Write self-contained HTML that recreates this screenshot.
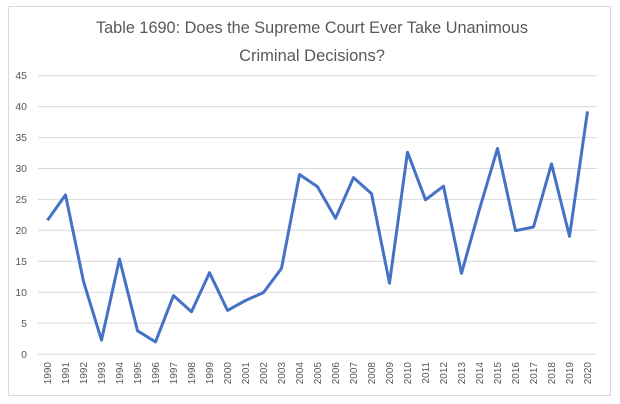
<!DOCTYPE html>
<html><head><meta charset="utf-8"><style>
html,body{margin:0;padding:0;background:#fff;}
svg{display:block;font-family:"Liberation Sans",Arial,sans-serif;}
</style></head><body>
<svg width="620" height="404" viewBox="0 0 620 404">
<rect x="8.5" y="6.5" width="602" height="389" fill="#fff" stroke="#d9d9d9"/>
<text x="312" y="33" text-anchor="middle" font-size="16.5" fill="#595959" textLength="432" lengthAdjust="spacingAndGlyphs">Table 1690: Does the Supreme Court Ever Take Unanimous</text>
<text x="312" y="61" text-anchor="middle" font-size="16.5" fill="#595959">Criminal Decisions?</text>
<g stroke="#d9d9d9" stroke-width="1">
<line x1="38" x2="597" y1="75.7" y2="75.7"/>
<line x1="38" x2="597" y1="106.6" y2="106.6"/>
<line x1="38" x2="597" y1="137.6" y2="137.6"/>
<line x1="38" x2="597" y1="168.5" y2="168.5"/>
<line x1="38" x2="597" y1="199.4" y2="199.4"/>
<line x1="38" x2="597" y1="230.3" y2="230.3"/>
<line x1="38" x2="597" y1="261.2" y2="261.2"/>
<line x1="38" x2="597" y1="292.2" y2="292.2"/>
<line x1="38" x2="597" y1="323.1" y2="323.1"/>
<line x1="38" x2="597" y1="354.3" y2="354.3"/>
</g>
<g font-size="10.5" fill="#595959" text-anchor="end">
<text x="27" y="79">45</text><text x="27" y="110">40</text><text x="27" y="141">35</text>
<text x="27" y="172">30</text><text x="27" y="203">25</text><text x="27" y="234">20</text>
<text x="27" y="265">15</text><text x="27" y="296">10</text><text x="27" y="327">5</text>
<text x="27" y="358">0</text>
</g>
<polyline fill="none" stroke="#4472c4" stroke-width="3" stroke-linejoin="round" points="47.5,220.2 65.5,194.9 83.5,281.4 101.5,340.1 119.5,259.1 137.5,330.8 155.5,341.9 173.5,295.6 191.5,311.7 209.5,272.7 227.5,310.4 245.5,300.5 263.5,292.5 281.5,268.4 299.5,174.5 317.5,186.8 335.5,218.3 353.5,177.6 371.5,193.6 389.5,283.2 407.5,152.2 425.5,199.8 443.5,186.2 461.5,273.3 479.5,209.1 497.5,148.5 515.5,230.7 533.5,227.0 551.5,163.9 569.5,236.3 587.5,111.4"/>
<g font-size="10" fill="#595959" text-anchor="end">
<text transform="translate(51,362) rotate(-90)">1990</text>
<text transform="translate(69,362) rotate(-90)">1991</text>
<text transform="translate(87,362) rotate(-90)">1992</text>
<text transform="translate(105,362) rotate(-90)">1993</text>
<text transform="translate(123,362) rotate(-90)">1994</text>
<text transform="translate(141,362) rotate(-90)">1995</text>
<text transform="translate(159,362) rotate(-90)">1996</text>
<text transform="translate(177,362) rotate(-90)">1997</text>
<text transform="translate(195,362) rotate(-90)">1998</text>
<text transform="translate(213,362) rotate(-90)">1999</text>
<text transform="translate(231,362) rotate(-90)">2000</text>
<text transform="translate(249,362) rotate(-90)">2001</text>
<text transform="translate(267,362) rotate(-90)">2002</text>
<text transform="translate(285,362) rotate(-90)">2003</text>
<text transform="translate(303,362) rotate(-90)">2004</text>
<text transform="translate(321,362) rotate(-90)">2005</text>
<text transform="translate(339,362) rotate(-90)">2006</text>
<text transform="translate(357,362) rotate(-90)">2007</text>
<text transform="translate(375,362) rotate(-90)">2008</text>
<text transform="translate(393,362) rotate(-90)">2009</text>
<text transform="translate(411,362) rotate(-90)">2010</text>
<text transform="translate(429,362) rotate(-90)">2011</text>
<text transform="translate(447,362) rotate(-90)">2012</text>
<text transform="translate(465,362) rotate(-90)">2013</text>
<text transform="translate(483,362) rotate(-90)">2014</text>
<text transform="translate(501,362) rotate(-90)">2015</text>
<text transform="translate(519,362) rotate(-90)">2016</text>
<text transform="translate(537,362) rotate(-90)">2017</text>
<text transform="translate(555,362) rotate(-90)">2018</text>
<text transform="translate(573,362) rotate(-90)">2019</text>
<text transform="translate(591,362) rotate(-90)">2020</text>
</g>
</svg>
</body></html>
